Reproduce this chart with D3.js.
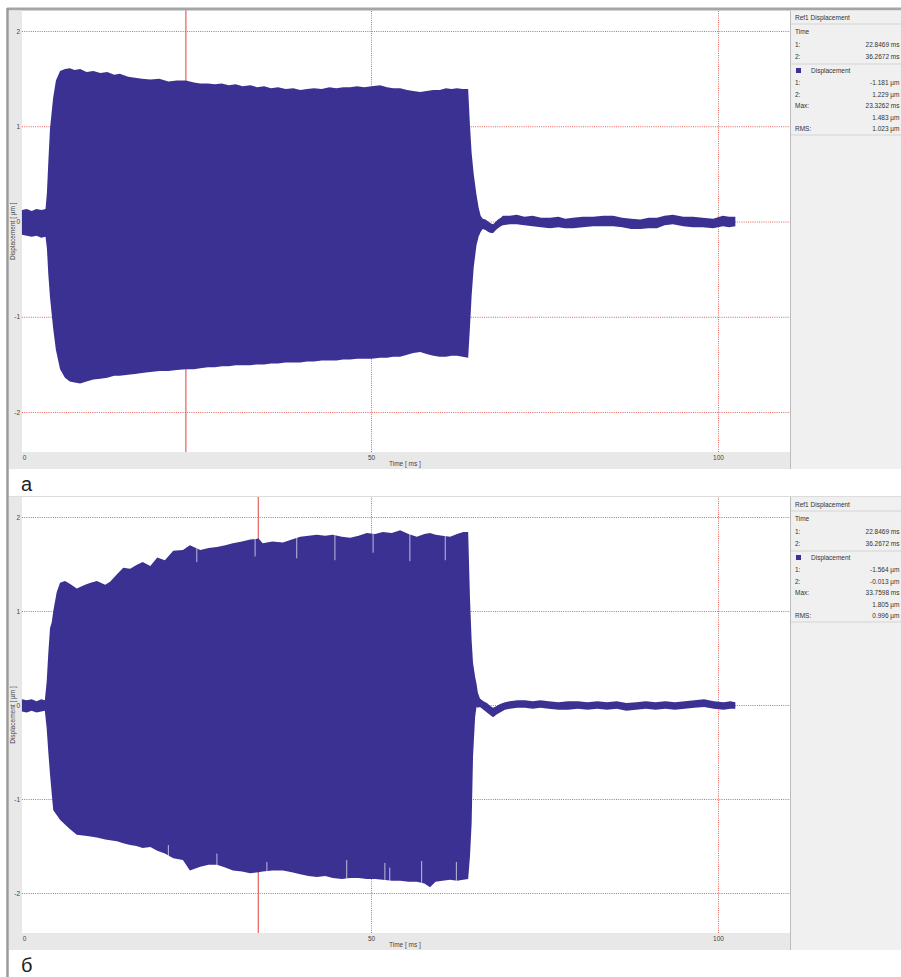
<!DOCTYPE html>
<html>
<head>
<meta charset="utf-8">
<script src="https://cdn.jsdelivr.net/npm/d3@7"></script>
<style>
body { margin: 0; background: #fff; }
svg { display: block; font-family: "Liberation Sans", Arial, sans-serif; }
</style>
</head>
<body>
<svg id="chart"></svg>
<script>
// envelope of the displacement signal: [time ms, upper µm, lower µm]
let sigA = [
  [-0.3,0.12,-0.14],[0.4,0.13,-0.15],[1.1,0.11,-0.16],[1.8,0.13,-0.15],[2.5,0.12,-0.17],[3.1,0.13,-0.16],
  [3.3,0.30,-0.28],[3.5,0.62,-0.55],[3.75,0.98,-0.80],[4.2,1.30,-1.12],[4.6,1.48,-1.35],[5.2,1.58,-1.55],
  [5.9,1.60,-1.64],[6.6,1.61,-1.68],[7.3,1.59,-1.69],[8.1,1.60,-1.70],[9.0,1.57,-1.68],[10.0,1.58,-1.66],
  [11.0,1.56,-1.65],[12.0,1.57,-1.64],[13.0,1.54,-1.62],[13.8,1.55,-1.62],[15.0,1.52,-1.61],[16.0,1.51,-1.60],
  [17.0,1.50,-1.59],[18.2,1.49,-1.58],[19.5,1.50,-1.57],[20.8,1.47,-1.57],[22.0,1.48,-1.56],[23.3,1.48,-1.55],
  [24.5,1.46,-1.55],[25.4,1.45,-1.54],[26.5,1.45,-1.53],[27.5,1.44,-1.53],[28.5,1.45,-1.52],[29.5,1.43,-1.52],
  [30.5,1.44,-1.51],[31.5,1.42,-1.51],[32.6,1.43,-1.51],[33.6,1.41,-1.50],[34.6,1.42,-1.50],[35.6,1.40,-1.49],
  [36.6,1.41,-1.49],[37.7,1.39,-1.48],[38.8,1.40,-1.48],[39.8,1.38,-1.48],[40.8,1.39,-1.47],[41.8,1.40,-1.47],
  [42.9,1.39,-1.46],[44.0,1.41,-1.46],[45.0,1.40,-1.46],[46.0,1.41,-1.45],[47.0,1.41,-1.45],[48.0,1.42,-1.44],
  [49.0,1.41,-1.44],[50.1,1.42,-1.44],[51.3,1.43,-1.43],[52.3,1.41,-1.43],[53.2,1.40,-1.42],[54.2,1.40,-1.42],
  [55.2,1.38,-1.40],[56.1,1.37,-1.38],[57.1,1.36,-1.37],[58.0,1.37,-1.39],[59.0,1.38,-1.41],[59.9,1.38,-1.42],
  [60.8,1.40,-1.42],[61.6,1.39,-1.41],[62.4,1.40,-1.41],[63.2,1.39,-1.42],[64.0,1.39,-1.43],
  [64.25,1.02,-1.12],[64.5,0.72,-0.78],[64.8,0.50,-0.48],[65.2,0.28,-0.25],[65.5,0.15,-0.16],[65.8,0.06,-0.11],
  [66.1,0.03,-0.08],[66.5,0.02,-0.09],[66.9,0.00,-0.11],[67.3,-0.02,-0.12],[67.6,-0.03,-0.12],[68.0,0.00,-0.09],
  [68.3,0.02,-0.07],[68.7,0.04,-0.05],[69.0,0.06,-0.04],[70.0,0.06,-0.03],[71.0,0.07,-0.03],[72.1,0.05,-0.04],
  [73.3,0.06,-0.05],[74.5,0.04,-0.06],[75.8,0.04,-0.07],[77.0,0.05,-0.06],[78.0,0.03,-0.07],[79.1,0.04,-0.07],
  [80.5,0.05,-0.06],[82.0,0.05,-0.05],[83.5,0.06,-0.05],[84.9,0.06,-0.05],[86.2,0.04,-0.06],[87.5,0.03,-0.08],
  [88.8,0.02,-0.08],[90.0,0.04,-0.07],[91.2,0.04,-0.07],[92.3,0.06,-0.04],[93.5,0.07,-0.03],[95.0,0.05,-0.05],
  [96.4,0.05,-0.06],[97.8,0.04,-0.06],[99.3,0.03,-0.07],[100.7,0.06,-0.05],[101.6,0.05,-0.06],[102.5,0.05,-0.05]
]

let sigB = [
  [-0.3,0.06,-0.07],[0.4,0.05,-0.08],[1.1,0.06,-0.06],[1.8,0.04,-0.08],[2.5,0.06,-0.07],[3.0,0.05,-0.06],
  [3.27,0.25,-0.25],[3.5,0.55,-0.50],[3.75,0.82,-0.74],[4.0,0.88,-0.95],[4.22,1.00,-1.12],[4.71,1.20,-1.17],
  [5.19,1.30,-1.22],[5.9,1.32,-1.27],[6.6,1.29,-1.32],[7.6,1.24,-1.38],[8.8,1.28,-1.39],[9.6,1.30,-1.40],
  [10.5,1.32,-1.41],[11.7,1.28,-1.43],[12.4,1.31,-1.44],[13.4,1.39,-1.45],[14.3,1.46,-1.47],[15.3,1.45,-1.49],
  [16.2,1.49,-1.50],[17.1,1.52,-1.52],[18.2,1.48,-1.51],[19.2,1.57,-1.55],[20.3,1.54,-1.58],[21.5,1.64,-1.63],
  [22.9,1.65,-1.65],[23.9,1.70,-1.76],[25.4,1.65,-1.72],[26.6,1.67,-1.70],[27.8,1.68,-1.70],[29.0,1.70,-1.73],
  [30.1,1.72,-1.76],[31.4,1.74,-1.77],[32.6,1.76,-1.79],[33.8,1.77,-1.78],[34.4,1.72,-1.77],[35.8,1.74,-1.76],
  [37.3,1.73,-1.76],[38.6,1.76,-1.78],[39.8,1.79,-1.80],[41.0,1.80,-1.82],[42.2,1.81,-1.83],[43.4,1.80,-1.82],
  [44.5,1.81,-1.84],[45.8,1.79,-1.85],[47.0,1.78,-1.84],[48.2,1.80,-1.84],[49.4,1.83,-1.85],[50.6,1.82,-1.85],
  [51.7,1.84,-1.86],[53.0,1.83,-1.87],[54.2,1.86,-1.87],[55.4,1.82,-1.88],[56.6,1.79,-1.88],[57.7,1.82,-1.90],
  [58.5,1.83,-1.94],[59.3,1.81,-1.88],[60.3,1.80,-1.87],[61.4,1.79,-1.86],[62.4,1.82,-1.87],[63.3,1.84,-1.86],
  [64.0,1.84,-1.85],[64.27,1.12,-1.60],[64.5,0.69,-1.26],[64.7,0.45,-0.55],[65.0,0.30,-0.13],[65.2,0.23,-0.02],
  [65.4,0.13,-0.03],[65.7,0.07,-0.02],[66.2,0.04,-0.05],[66.7,0.02,-0.08],[67.2,-0.01,-0.11],[67.6,-0.03,-0.13],
  [68.1,-0.01,-0.10],[68.6,0.01,-0.08],[69.3,0.03,-0.05],[70.0,0.04,-0.04],[71.1,0.05,-0.03],[72.2,0.05,-0.03],
  [73.3,0.04,-0.04],[74.4,0.05,-0.03],[75.6,0.04,-0.04],[77.0,0.03,-0.05],[78.4,0.04,-0.05],[79.8,0.04,-0.04],
  [81.2,0.03,-0.05],[82.6,0.04,-0.04],[84.0,0.03,-0.05],[85.4,0.04,-0.04],[86.8,0.02,-0.06],[88.2,0.03,-0.05],
  [89.6,0.04,-0.04],[91.0,0.03,-0.05],[92.4,0.04,-0.04],[93.8,0.03,-0.05],[95.2,0.04,-0.04],[96.6,0.05,-0.03],
  [98.0,0.06,-0.02],[99.4,0.04,-0.04],[100.8,0.03,-0.05],[101.8,0.04,-0.04],[102.5,0.03,-0.04]
]

// narrow dips in the envelope of (б): [time ms, tip µm]
let dipsUpB = [[24.9,1.52],[33.3,1.58],[39.3,1.56],[44.8,1.54],[50.3,1.62],[55.6,1.53],[60.7,1.54]]
let dipsLoB = [[20.8,-1.49],[27.8,-1.58],[35.0,-1.67],[46.5,-1.65],[52.0,-1.68],[52.7,-1.73],[57.3,-1.66],[62.3,-1.67]]

let xTicks = [0, 50, 100]
let yTicks = [-2, -1, 0, 1, 2]

let maxTimeA = 23.3262
let maxTimeB = 33.7598

let rowLabels = ['Time', '1:', '2:', 'Displacement', '1:', '2:', 'Max:', '', 'RMS:']
let valuesA = ['', '22.8469 ms', '36.2672 ms', '', '-1.181 µm', '1.229 µm', '23.3262 ms', '1.483 µm', '1.023 µm']
let valuesB = ['', '22.8469 ms', '36.2672 ms', '', '-1.564 µm', '-0.013 µm', '33.7598 ms', '1.805 µm', '0.996 µm']

let width = 901
let height = 977
let plotLeft = 22
let plotRight = 790
let sigColor = '#3b3192'
let gridColor = '#e0453d'

let svg = d3.select('#chart').attr('width', width).attr('height', height)

let xScale = d3.scaleLinear().domain([0, 100]).range([24, 718])

let rowOffsets = [13.5, 27, 38.5, 52.5, 65, 76.5, 88, 99.5, 110.5]

let drawPanel = (p) => {
  let g = svg.append('g')
  let yScale = d3.scaleLinear().domain([-2, 2]).range([p.yLow, p.yHigh])

  // grey strips for the axes
  g.append('rect').attr('x', 9).attr('y', p.top).attr('width', plotLeft - 9).attr('height', p.bottom - p.top).attr('fill', '#e8e8e8')
  g.append('rect').attr('x', 9).attr('y', p.bottom).attr('width', plotRight - 9).attr('height', p.stripBottom - p.bottom).attr('fill', '#e8e8e8')

  // dotted grid
  let hGrid = g.append('g').attr('transform', 'translate(' + plotLeft + ',0)')
    .call(d3.axisLeft(yScale).tickValues(yTicks).tickSize(-(plotRight - plotLeft)).tickFormat(''))
  let vGrid = g.append('g').attr('transform', 'translate(0,' + p.bottom + ')')
    .call(d3.axisBottom(xScale).tickValues([50, 100]).tickSize(-(p.bottom - p.top)).tickFormat(''))
  ;[hGrid, vGrid].forEach((ax) => {
    ax.select('.domain').remove()
    ax.selectAll('line').attr('stroke', gridColor).attr('stroke-width', 1).attr('stroke-dasharray', '1,1.2').attr('opacity', 0.85)
  })

  // cursor at the max
  g.append('line').attr('x1', xScale(p.maxT)).attr('x2', xScale(p.maxT))
    .attr('y1', p.top).attr('y2', p.bottom).attr('stroke', '#e0625a').attr('stroke-width', 1.2)

  // signal envelope
  let area = d3.area()
    .x((d) => xScale(d[0]))
    .y0((d) => yScale(d[2]))
    .y1((d) => yScale(d[1]))
  g.append('path').datum(p.sig).attr('d', area).attr('fill', sigColor)

  g.selectAll('.dipUp').data(p.dipsUp).enter().append('line')
    .attr('x1', (d) => xScale(d[0])).attr('x2', (d) => xScale(d[0]))
    .attr('y1', (d) => yScale(d[1])).attr('y2', yScale(1.97))
    .attr('stroke', '#fff').attr('stroke-width', 0.9).attr('opacity', 0.75)
  g.selectAll('.dipLo').data(p.dipsLo).enter().append('line')
    .attr('x1', (d) => xScale(d[0])).attr('x2', (d) => xScale(d[0]))
    .attr('y1', (d) => yScale(d[1])).attr('y2', yScale(-1.97))
    .attr('stroke', '#fff').attr('stroke-width', 0.9).attr('opacity', 0.75)

  // axes labels
  let yAxis = g.append('g').attr('transform', 'translate(20,0)')
    .call(d3.axisLeft(yScale).tickValues(yTicks).tickSize(0).tickPadding(0).tickFormat((d) => String(d)))
  let xAxis = g.append('g').attr('transform', 'translate(0,' + p.bottom + ')')
    .call(d3.axisBottom(xScale).tickValues(xTicks).tickSize(0).tickPadding(3))
  ;[yAxis, xAxis].forEach((ax) => {
    ax.select('.domain').remove()
    ax.attr('font-family', null).attr('font-size', null)
    ax.selectAll('text').attr('font-size', 6.5).attr('fill', '#444')
  })

  g.append('text').attr('x', 389).attr('y', p.stripBottom - 3)
    .attr('font-size', 6.5).attr('fill', '#444').text('Time [ ms ]')
  g.append('text').attr('transform', 'translate(15,' + ((p.top + p.bottom) / 2) + ') rotate(-90)')
    .attr('text-anchor', 'middle').attr('font-size', 6.5).attr('fill', '#444').text('Displacement [ µm ]')

  // info panel on the right
  g.append('rect').attr('x', plotRight).attr('y', p.top).attr('width', width - plotRight).attr('height', p.stripBottom - p.top).attr('fill', '#f0f0f0')
  g.append('line').attr('x1', plotRight + 0.5).attr('x2', plotRight + 0.5).attr('y1', p.top).attr('y2', p.stripBottom).attr('stroke', '#bdbdbd')
  g.append('text').attr('x', 795).attr('y', p.hdr).attr('dy', '0.35em').attr('font-size', 6.5).attr('fill', '#333').text('Ref1 Displacement')
  ;[6, 46, 117].forEach((o) => {
    g.append('line').attr('x1', plotRight + 1).attr('x2', width).attr('y1', p.hdr + o).attr('y2', p.hdr + o).attr('stroke', '#d4d4d4')
  })
  rowLabels.forEach((lab, i) => {
    let y = p.hdr + rowOffsets[i]
    let tx = lab == 'Displacement' ? 811 : 795
    g.append('text').attr('x', tx).attr('y', y).attr('dy', '0.35em').attr('font-size', 6.5).attr('fill', '#333').text(lab)
    g.append('text').attr('x', 899.5).attr('y', y).attr('dy', '0.35em').attr('text-anchor', 'end').attr('font-size', 6.5).attr('fill', '#333').text(p.values[i])
    if (lab == 'Displacement') {
      g.append('rect').attr('x', 796).attr('y', y - 2.5).attr('width', 5).attr('height', 5).attr('fill', sigColor)
    }
  })

  // panel letter
  g.append('text').attr('x', 21).attr('y', p.labelY)
    .attr('font-family', '"Liberation Sans Narrow", "Liberation Sans", sans-serif')
    .attr('font-size', 20).attr('fill', '#222').text(p.label)
}

// frame
svg.append('line').attr('x1', 7).attr('x2', width).attr('y1', 9).attr('y2', 9).attr('stroke', '#a5a5a5').attr('stroke-width', 3)
svg.append('line').attr('x1', 7.5).attr('x2', 7.5).attr('y1', 8).attr('y2', height).attr('stroke', '#9a9a9a').attr('stroke-width', 2.5)
svg.append('line').attr('x1', 9).attr('x2', width).attr('y1', 496.5).attr('y2', 496.5).attr('stroke', '#dcdcdc')

drawPanel({top: 10.5, bottom: 452, stripBottom: 469, yHigh: 31, yLow: 412, sig: sigA, dipsUp: [], dipsLo: [],
  maxT: maxTimeA, values: valuesA, hdr: 18, label: 'а', labelY: 491})
drawPanel({top: 497, bottom: 933, stripBottom: 950, yHigh: 517, yLow: 893, sig: sigB, dipsUp: dipsUpB, dipsLo: dipsLoB,
  maxT: maxTimeB, values: valuesB, hdr: 505, label: 'б', labelY: 972})
</script>
</body>
</html>
